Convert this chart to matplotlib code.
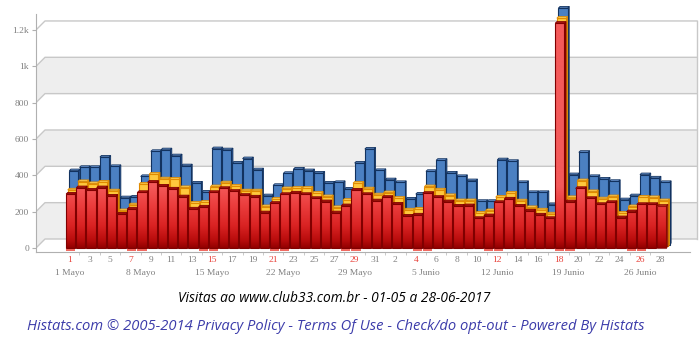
import numpy as np
import matplotlib
matplotlib.use('Agg')
import matplotlib.pyplot as plt
from matplotlib.patches import Polygon, PathPatch
from matplotlib.path import Path
from matplotlib.colors import LinearSegmentedColormap
from matplotlib import font_manager

# visitas diarias 01-05 a 28-06-2017
rojo = [297, 332, 319, 332, 286, 187, 215, 306, 362, 341, 325, 282, 215, 226, 306, 328,
        312, 290, 281, 194, 246, 295, 303, 295, 273, 255, 194, 233, 319, 295, 260,
        279, 242, 176, 182, 301, 279, 255, 231, 233, 163, 178, 251, 270, 231, 204,
        182, 163, 1237, 255, 328, 273, 240, 251, 167, 200, 240, 240, 231]
amarillo = [311, 357, 346, 354, 306, 197, 229, 343, 398, 372, 370, 324, 238, 243, 329, 350,
            332, 306, 306, 219, 260, 318, 320, 320, 293, 274, 214, 254, 348, 317, 284,
            296, 265, 201, 205, 329, 311, 280, 252, 252, 183, 197, 271, 293, 251, 214,
            201, 179, 1256, 269, 362, 302, 262, 274, 183, 219, 271, 269, 252]
azul = [408, 426, 426, 483, 431, 259, 263, 376, 514, 523, 490, 435, 340, 290, 529, 523,
        450, 474, 413, 270, 327, 393, 417, 408, 395, 340, 343, 307, 450, 527, 409,
        358, 343, 252, 279, 404, 465, 395, 376, 353, 239, 239, 468, 459, 343, 288,
        288, 221, 1303, 386, 509, 376, 362, 349, 248, 270, 386, 368, 343]

dias = list(range(1, 32)) + list(range(1, 29))
y_ticks = [0, 200, 400, 600, 800, 1000, 1200]
y_labels = ['0', '200', '400', '600', '800', '1k', '1.2k']
semanas = ['1 Mayo', '8 Mayo', '15 Mayo', '22 Mayo', '29 Mayo',
           '5 Junio', '12 Junio', '19 Junio', '26 Junio']
semanas_idx = [0, 7, 14, 21, 28, 35, 42, 49, 56]
rojo_idx = [0, 6, 14, 20, 28, 34, 42, 48, 56]
findes = [0, 6, 7, 13, 14, 20, 21, 27, 28, 34, 35, 41, 42, 48, 49, 55, 56]

titulo = 'Visitas ao www.club33.com.br - 01-05 a 28-06-2017'
pie = 'Histats.com \u00a9 2005-2014 Privacy Policy - Terms Of Use - Check/do opt-out - Powered By Histats'

n = len(rojo)
xs = np.arange(n)

# geometria en pixeles
PXX = 10.19    # px por dia
PXY = 0.1817   # px por visita
X0 = 69.3
left_px, right_px, bottom_px, top_px = 36, 699, 252, 5
fig = plt.figure(figsize=(7, 3.54), dpi=100)
ax = fig.add_axes([left_px / 700, 1 - bottom_px / 354,
                   (right_px - left_px) / 700, (bottom_px - top_px) / 354])
xmin = (left_px - X0) / PXX
xmax = (right_px - X0) / PXX
ymin = (248 - bottom_px) / PXY
ymax = (248 - top_px) / PXY
ux = 1 / PXX
uy = 1 / PXY
xwall = (697 - X0) / PXX
ax.set_xlim(xmin, xmax)
ax.set_ylim(ymin, ymax)

# pared del fondo
bx, by = 9 * ux, 9 * uy
for v1, v2 in [(0, 200), (400, 600), (800, 1000)]:
    ax.add_patch(Polygon([(xmin, v1), (xmin + bx, v1 + by), (xwall, v1 + by),
                          (xwall, v2 + by), (xmin + bx, v2 + by), (xmin, v2)],
                         closed=True, facecolor='#eeeeee', edgecolor='none', zorder=0))
for v in y_ticks:
    ax.plot([xmin, xmin + bx, xwall], [v, v + by, v + by], color='#c8c8c8', lw=1, zorder=1)
ax.plot([xwall, xwall], [0 + by, 1200 + by], color='#c8c8c8', lw=1, zorder=1)

# barras 3D
off = 1.4 * ux
hw = 0.45
d = 1.6


def barras(vals, s, front, top, side, edge, z, alpha_last=1.0):
    sx, sy = s * d * ux, s * d * uy
    dx, dy = d * ux, d * uy
    rects = []
    for i, v in zip(xs, vals):
        a = alpha_last if i == n - 1 else 1.0
        xl = i + off - hw + sx
        xr = i + off + hw + sx
        b = sy
        ax.add_patch(Polygon([(xr, b), (xr, v + sy), (xr + dx, v + sy + dy), (xr + dx, b + dy)],
                             closed=True, facecolor=side, edgecolor=edge, lw=0.6, zorder=z, alpha=a))
        ax.add_patch(Polygon([(xl, v + sy), (xr, v + sy), (xr + dx, v + sy + dy), (xl + dx, v + sy + dy)],
                             closed=True, facecolor=top, edgecolor=edge, lw=0.6, zorder=z, alpha=a))
        rects.append([(xl, b), (xr, b), (xr, v + sy), (xl, v + sy)])
        ax.add_patch(Polygon(rects[-1], closed=True,
                             facecolor=front if front else 'none', edgecolor=edge,
                             lw=0.8, zorder=z + 0.2, alpha=a))
    return rects


barras(azul, 2, '#4b80c2', '#6f9bd6', '#2a5694', '#12325f', 2)
barras(amarillo, 1, '#ffc83d', '#ffd966', '#e8960f', '#e08a00', 3)
r_rects = barras(rojo, 0, None, '#b01515', '#8a0000', '#800000', 4, alpha_last=0.75)

# degradado rojo recortado a las barras
vals = np.linspace(0, 1300, 650)
t = np.clip(vals / 340, 0, 1).reshape(-1, 1)
cmap = LinearSegmentedColormap.from_list(
    'rojo', [(0, '#920000'), (0.12, '#b80c0c'), (0.35, '#d82222'),
             (0.7, '#ec3e3e'), (1, '#f45a5a')])
im = ax.imshow(t, cmap=cmap, extent=[xmin, xmax, 0, 1300], origin='lower',
               aspect='auto', zorder=4.1, vmin=0, vmax=1)
codes = []
verts = []
for r in r_rects:
    verts += r + [r[0]]
    codes += [Path.MOVETO, Path.LINETO, Path.LINETO, Path.LINETO, Path.CLOSEPOLY]
clip = PathPatch(Path(verts, codes), facecolor='none', edgecolor='none')
ax.add_patch(clip)
im.set_clip_path(clip)
ax.set_xlim(xmin, xmax)
ax.set_ylim(ymin, ymax)

# marcas rojas de fin de semana
for i in findes:
    ax.plot([i + off - hw, i + off + hw], [-8.5, -8.5], color='#ee5a50', lw=1.3,
            solid_capstyle='butt', zorder=5)

# ejes
for sp in ['top', 'right']:
    ax.spines[sp].set_visible(False)
ax.spines['left'].set_bounds(ymin, (248 - 14) / PXY)
ax.spines['bottom'].set_bounds(xmin, (690 - X0) / PXX)
ax.spines['left'].set_color('#b0b0b0')
ax.spines['bottom'].set_color('#b0b0b0')

serif = 'Liberation Serif'
ax.set_yticks(y_ticks)
ax.set_yticklabels(y_labels, fontsize=6.8, color='#808080', family=serif)
ax.tick_params(axis='y', length=3, color='#b0b0b0', pad=2)

lab_idx = list(range(0, 31, 2)) + list(range(32, 59, 2))
ax.set_xticks(lab_idx)
ax.set_xticklabels([str(dias[i]) for i in lab_idx], fontsize=6.8, family=serif)
for i, lab in zip(lab_idx, ax.get_xticklabels()):
    lab.set_color('#e8413a' if i in rojo_idx else '#808080')
ax.set_xticks(xs, minor=True)
ax.tick_params(axis='x', which='major', length=0, pad=3)
ax.tick_params(axis='x', which='minor', length=2.5, color='#c0c0c0')

for i, s in zip(semanas_idx, semanas):
    ax.annotate(s, xy=(i, 0), xycoords=('data', 'axes fraction'), xytext=(0, -20.7 * 0.72),
                textcoords='offset points', ha='center', va='center',
                fontsize=6.8, color='#808080', family=serif)

# textos inferiores
nombres = {f.name for f in font_manager.fontManager.ttflist}
sans = 'Liberation Sans Narrow' if 'Liberation Sans Narrow' in nombres else 'Open Sans'
t1 = fig.text(334 / 700, 1 - 298 / 354, titulo, ha='center', va='center',
              style='italic', fontsize=9, color='black', family=[sans, 'DejaVu Sans'])
t2 = fig.text(335.5 / 700, 1 - 327 / 354, pie, ha='center', va='center',
              style='italic', fontsize=11, color='#3c3caa', family=[sans, 'DejaVu Sans'])
rend = fig.canvas.get_renderer()
for txt, ancho in [(t1, 312), (t2, 619)]:
    w = txt.get_window_extent(rend).width
    txt.set_fontsize(txt.get_fontsize() * ancho / w)

fig.savefig('out.png', dpi=100)
